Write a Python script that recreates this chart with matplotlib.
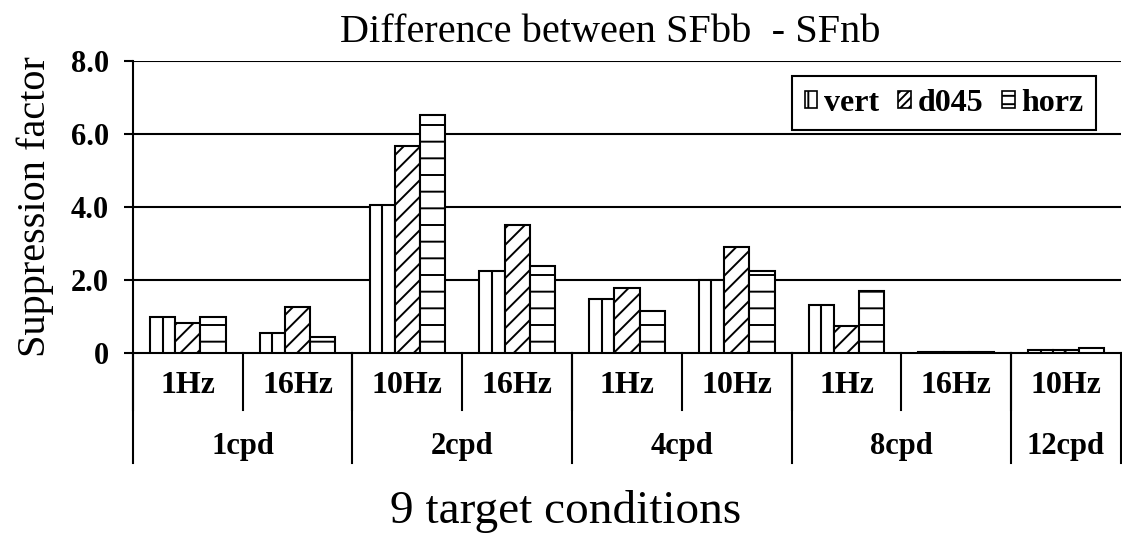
import matplotlib
matplotlib.use('Agg')
import matplotlib.pyplot as plt
import matplotlib.patches as mpatches
import numpy as np

plt.rcParams['font.family'] = ['Liberation Serif', 'DejaVu Serif']
plt.rcParams['hatch.linewidth'] = 1.4

# data
conditions = ["1Hz", "16Hz", "10Hz", "16Hz", "1Hz", "10Hz", "1Hz", "16Hz", "10Hz"]
groups = ["1cpd", "2cpd", "4cpd", "8cpd", "12cpd"]
group_sizes = [2, 2, 2, 2, 1]

vert = [1.00, 0.55, 4.06, 2.24, 1.49, 2.00, 1.32, 0.03, 0.08]
d045 = [0.82, 1.25, 5.68, 3.51, 1.78, 2.91, 0.74, 0.03, 0.08]
horz = [1.00, 0.45, 6.51, 2.39, 1.14, 2.24, 1.69, 0.03, 0.15]

series = [vert, d045, horz]
labels = ["vert", "d045", "horz"]
hatches = ["", "//", "-"]

x = np.arange(len(conditions))
width = 0.23

fig = plt.figure(figsize=(11.22, 5.4), dpi=100)
ax = fig.add_axes([0.1185, 0.3463, 0.8805, 0.5407])

for i in range(3):
    ax.bar(x + (i - 1) * width, series[i], width, color='white', edgecolor='black',
           linewidth=1.5, hatch=hatches[i], label=labels[i], zorder=3)
# vert pattern: one line down the middle of each bar
ax.vlines(x - width, 0, vert, color='black', linewidth=1.5, zorder=4)

ax.set_xlim(-0.5, len(conditions) - 0.5)
ax.set_ylim(0, 8)
ax.set_yticks([0, 2, 4, 6, 8])
ax.set_yticklabels(['0', '2.0', '4.0', '6.0', '8.0'], fontsize=22, fontweight='bold')
ax.set_xticks([])
ax.tick_params(axis='y', length=6.5, width=1.5, direction='out', pad=11)

for s in ['top', 'right']:
    ax.spines[s].set_visible(False)
ax.spines['left'].set_linewidth(1.5)
ax.spines['bottom'].set_linewidth(1.5)

for yv in [2, 4, 6, 8]:
    ax.axhline(yv, color='black', linewidth=1.5, zorder=1)

# two-level category axis
trans = ax.get_xaxis_transform()
for i, c in enumerate(conditions):
    ax.text(i, -0.11, c, transform=trans, ha='center', va='center',
            fontsize=23, fontweight='bold')
    ax.plot([i - 0.5, i - 0.5], [0, -0.195], transform=trans, color='black',
            linewidth=1.5, clip_on=False)

start = 0
for g, n in zip(groups, group_sizes):
    ax.text(start + (n - 1) / 2, -0.32, g, transform=trans, ha='center', va='center',
            fontsize=22, fontweight='bold')
    ax.plot([start - 0.5, start - 0.5], [0, -0.377], transform=trans, color='black',
            linewidth=1.5, clip_on=False)
    start += n
ax.plot([start - 0.5, start - 0.5], [0, -0.377], transform=trans, color='black',
        linewidth=1.5, clip_on=False)

fig.text(0.5437, 0.94, 'Difference between SFbb  - SFnb', fontsize=29,
         ha='center', va='center')
fig.text(0.031, 0.617, 'Suppression factor', fontsize=29, rotation=90,
         ha='center', va='center')
fig.text(0.504, 0.053, '9 target conditions', fontsize=34, ha='center', va='center')

handles = [mpatches.Patch(facecolor='white', edgecolor='black', hatch=h, linewidth=1.2)
           for h in ["|", "////", "--"]]
leg = ax.legend(handles, labels, ncol=3, loc='upper right', bbox_to_anchor=(0.975, 0.949),
                fancybox=False, edgecolor='black', framealpha=1, borderaxespad=0,
                handlelength=0.4, handleheight=0.45, handletextpad=0.2,
                columnspacing=0.6, borderpad=0.4,
                prop={'size': 23, 'weight': 'bold'})
leg.get_frame().set_linewidth(1.5)
leg.set_zorder(5)

fig.savefig('out.png', dpi=100)
